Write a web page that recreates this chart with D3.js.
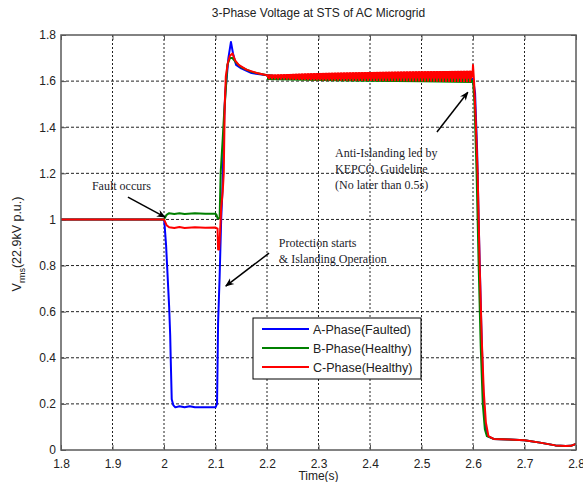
<!DOCTYPE html>
<html>
<head>
<meta charset="utf-8">
<script src="https://cdn.jsdelivr.net/npm/d3@7"></script>
<style>
  body { margin: 0; background: #fff; }
  svg { display: block; }
  .tick text { font-family: "Liberation Sans", Arial, sans-serif; font-size: 12px; fill: #222; }
  .note { font-family: "Liberation Serif", "Times New Roman", serif; font-size: 12px; fill: #1c1c2a; }
</style>
</head>
<body>
<svg id="chart" width="583" height="482"></svg>
<script>
// phase A (faulted)
var tA = [1.8, 2.0, 2.001, 2.004, 2.006, 2.010, 2.012, 2.013, 2.015, 2.018, 2.022, 2.03, 2.04, 2.05, 2.06, 2.08, 2.1, 2.103, 2.105, 2.108, 2.111, 2.113, 2.117, 2.119, 2.122, 2.125, 2.13, 2.134, 2.14, 2.15, 2.17, 2.2, 2.25, 2.3, 2.4, 2.5, 2.6, 2.604, 2.608, 2.612, 2.616, 2.62, 2.624, 2.628, 2.64, 2.67, 2.7, 2.73, 2.76, 2.78, 2.79, 2.8];
var vA = [1.0, 1.0, 0.98, 0.89, 0.8, 0.62, 0.5, 0.4, 0.22, 0.195, 0.185, 0.19, 0.185, 0.19, 0.185, 0.185, 0.185, 0.2, 0.55, 0.75, 1.0, 1.1, 1.45, 1.55, 1.62, 1.7, 1.77, 1.72, 1.67, 1.655, 1.635, 1.625, 1.615, 1.61, 1.615, 1.615, 1.61, 1.55, 1.3, 0.9, 0.55, 0.25, 0.1, 0.06, 0.048, 0.046, 0.042, 0.032, 0.02, 0.017, 0.018, 0.026];

// phase B (healthy)
var tB = [1.8, 2.0, 2.005, 2.01, 2.02, 2.03, 2.04, 2.06, 2.08, 2.1, 2.102, 2.104, 2.108, 2.11, 2.114, 2.117, 2.119, 2.121, 2.123, 2.128, 2.133, 2.14, 2.15, 2.17, 2.2, 2.25, 2.3, 2.4, 2.5, 2.6, 2.603, 2.607, 2.611, 2.615, 2.619, 2.623, 2.627, 2.64, 2.67, 2.7, 2.73, 2.76, 2.78, 2.79, 2.8];
var vB = [1.0, 1.0, 1.02, 1.027, 1.024, 1.027, 1.024, 1.027, 1.025, 1.025, 1.02, 1.005, 1.005, 1.2, 1.35, 1.47, 1.53, 1.6, 1.67, 1.7, 1.7, 1.68, 1.66, 1.64, 1.625, 1.615, 1.61, 1.61, 1.612, 1.6, 1.5, 1.2, 0.8, 0.45, 0.2, 0.09, 0.06, 0.048, 0.046, 0.042, 0.032, 0.02, 0.017, 0.018, 0.026];

// phase C (healthy)
var tC = [1.8, 2.0, 2.005, 2.01, 2.02, 2.03, 2.04, 2.06, 2.08, 2.1, 2.104, 2.105, 2.107, 2.109, 2.111, 2.114, 2.116, 2.118, 2.120, 2.124, 2.128, 2.133, 2.138, 2.145, 2.16, 2.18, 2.2, 2.25, 2.3, 2.4, 2.5, 2.599, 2.6, 2.602, 2.605, 2.609, 2.613, 2.617, 2.621, 2.625, 2.63, 2.64, 2.67, 2.7, 2.73, 2.76, 2.78, 2.79, 2.8];
var vC = [1.0, 1.0, 0.975, 0.966, 0.963, 0.967, 0.963, 0.966, 0.964, 0.965, 0.96, 0.87, 0.87, 0.95, 1.05, 1.12, 1.2, 1.5, 1.62, 1.68, 1.71, 1.72, 1.69, 1.67, 1.65, 1.635, 1.625, 1.615, 1.612, 1.615, 1.618, 1.62, 1.67, 1.6, 1.45, 1.2, 0.8, 0.48, 0.25, 0.12, 0.06, 0.048, 0.046, 0.042, 0.032, 0.02, 0.017, 0.018, 0.026];

// ripple envelope in steady state
var tRip = [2.2, 2.3, 2.4, 2.5, 2.598];
var ripCHi = [1.628, 1.635, 1.64, 1.643, 1.645];
var ripCLo = [1.608, 1.603, 1.6, 1.598, 1.595];
var ripBHi = [1.62, 1.625, 1.63, 1.632, 1.635];
var ripBLo = [1.605, 1.6, 1.597, 1.595, 1.592];

var xTicks = [1.8, 1.9, 2.0, 2.1, 2.2, 2.3, 2.4, 2.5, 2.6, 2.7, 2.8];
var yTicks = [0, 0.2, 0.4, 0.6, 0.8, 1.0, 1.2, 1.4, 1.6, 1.8];
var phaseNames = ["A-Phase(Faulted)", "B-Phase(Healthy)", "C-Phase(Healthy)"];
var phaseColors = ["#0000ff", "#008000", "#ff0000"];

var svg = d3.select("#chart"),
    margin = { top: 35, right: 7, bottom: 32, left: 61 },
    width = +svg.attr("width") - margin.left - margin.right,
    height = +svg.attr("height") - margin.top - margin.bottom;

var x = d3.scaleLinear().domain([1.8, 2.8]).range([0, width]),
    y = d3.scaleLinear().domain([0, 1.8]).range([height, 0]);

var defs = svg.append("defs");
defs.append("marker")
    .attr("id", "arrow")
    .attr("viewBox", "0 0 10 10")
    .attr("refX", 9).attr("refY", 5)
    .attr("markerWidth", 9).attr("markerHeight", 9)
    .attr("markerUnits", "userSpaceOnUse")
    .attr("orient", "auto")
    .append("path")
    .attr("d", "M0,1 L10,5 L0,9 L3,5 Z")
    .attr("fill", "#000");
var pat = defs.append("pattern")
    .attr("id", "redstripe")
    .attr("patternUnits", "userSpaceOnUse")
    .attr("width", 3).attr("height", 4);
pat.append("rect").attr("width", 2).attr("height", 4).attr("fill", "#ff0000");
defs.append("clipPath").attr("id", "clip")
    .append("rect").attr("width", width).attr("height", height);

var g = svg.append("g")
    .attr("transform", "translate(" + margin.left + "," + margin.top + ")");

// grid
g.append("g").selectAll("line")
    .data(xTicks.slice(1, -1))
    .enter().append("line")
    .attr("x1", function (d) { return x(d); }).attr("x2", function (d) { return x(d); })
    .attr("y1", 0).attr("y2", height)
    .attr("stroke", "#222").attr("stroke-width", 1)
    .attr("stroke-dasharray", "2,2");
g.append("g").selectAll("line")
    .data(yTicks.slice(1, -1))
    .enter().append("line")
    .attr("y1", function (d) { return y(d); }).attr("y2", function (d) { return y(d); })
    .attr("x1", 0).attr("x2", width)
    .attr("stroke", "#222").attr("stroke-width", 1)
    .attr("stroke-dasharray", "3,2");

// axes
var fmt = d3.format("~g");
g.append("g").attr("transform", "translate(0," + height + ")")
    .call(d3.axisBottom(x).tickValues(xTicks).tickFormat(fmt).tickSizeInner(-5).tickSizeOuter(0).tickPadding(9));
g.append("g")
    .call(d3.axisLeft(y).tickValues(yTicks).tickFormat(fmt).tickSizeInner(-5).tickSizeOuter(0).tickPadding(5));
g.append("g").call(d3.axisTop(x).tickValues(xTicks).tickFormat("").tickSizeInner(-5).tickSizeOuter(0));
g.append("g").attr("transform", "translate(" + width + ",0)")
    .call(d3.axisRight(y).tickValues(yTicks).tickFormat("").tickSizeInner(-5).tickSizeOuter(0));
g.selectAll(".domain").remove();
g.selectAll(".tick line").attr("stroke", "#555");

// data
var plot = g.append("g").attr("clip-path", "url(#clip)");

var line = d3.line()
    .x(function (d) { return x(d[0]); })
    .y(function (d) { return y(d[1]); });

function zip(t, v) { return t.map(function (d, i) { return [d, v[i]]; }); }

var band = d3.area()
    .x(function (d) { return x(d[0]); })
    .y0(function (d) { return y(d[1]); })
    .y1(function (d) { return y(d[2]); });

plot.append("path")
    .datum(zip(tA, vA))
    .attr("fill", "none").attr("stroke", phaseColors[0]).attr("stroke-width", 2)
    .attr("stroke-linejoin", "round")
    .attr("d", line);
plot.append("path")
    .datum(zip(tB, vB))
    .attr("fill", "none").attr("stroke", phaseColors[1]).attr("stroke-width", 2)
    .attr("stroke-linejoin", "round")
    .attr("d", line);
plot.append("path")
    .datum(tRip.map(function (d, i) { return [d, ripBLo[i], ripBHi[i]]; }))
    .attr("fill", phaseColors[1])
    .attr("d", band);
plot.append("path")
    .datum(zip(tC, vC))
    .attr("fill", "none").attr("stroke", phaseColors[2]).attr("stroke-width", 2)
    .attr("stroke-linejoin", "round")
    .attr("d", line);
plot.append("path")
    .datum(tRip.map(function (d, i) { return [d, ripCLo[i], ripCHi[i]]; }))
    .attr("fill", "url(#redstripe)")
    .attr("d", band);
// solid upper part of the red ripple
plot.append("path")
    .datum(tRip.map(function (d, i) { return [d, ripCLo[i] + (ripCHi[i] - ripCLo[i]) * 0.3, ripCHi[i]]; }))
    .attr("fill", phaseColors[2])
    .attr("d", band);

// frame
g.append("rect")
    .attr("width", width).attr("height", height)
    .attr("fill", "none").attr("stroke", "#5a5a5a").attr("stroke-width", 1.5);

// annotations
var notes = [
    { lines: ["Fault occurs"], t: 1.86, v: 1.128, from: [1.930, 1.097], to: [2.002, 1.01] },
    { lines: ["Protection starts", "& Islanding Operation"], t: 2.223, v: 0.88, from: [2.204, 0.854], to: [2.12, 0.711] },
    { lines: ["Anti-Islanding led by", "KEPCO. Guideline", "(No later than 0.5s)"], t: 2.332, v: 1.27, from: [2.53, 1.379], to: [2.59, 1.552] }
];
notes.forEach(function (n) {
    var txt = g.append("text").attr("class", "note")
        .attr("x", x(n.t)).attr("y", y(n.v));
    n.lines.forEach(function (s, i) {
        txt.append("tspan").attr("x", x(n.t)).attr("dy", i ? 16 : 0).text(s);
    });
    g.append("line")
        .attr("x1", x(n.from[0])).attr("y1", y(n.from[1]))
        .attr("x2", x(n.to[0])).attr("y2", y(n.to[1]))
        .attr("stroke", "#000").attr("stroke-width", 1.5)
        .attr("marker-end", "url(#arrow)");
});

// legend
var leg = g.append("g").attr("transform", "translate(" + (253 - margin.left) + "," + (318 - margin.top) + ")");
leg.append("rect").attr("width", 168).attr("height", 61)
    .attr("fill", "#fff").attr("stroke", "#000").attr("stroke-width", 1);
phaseNames.forEach(function (name, i) {
    var ly = 11 + i * 19;
    leg.append("line")
        .attr("x1", 9).attr("x2", 56).attr("y1", ly).attr("y2", ly)
        .attr("stroke", phaseColors[i]).attr("stroke-width", 2);
    leg.append("text")
        .attr("x", 60).attr("y", ly + 4.5)
        .style("font-family", "'Liberation Sans', Arial, sans-serif")
        .style("font-size", "12.5px").style("fill", "#222")
        .text(name);
});

// titles
svg.append("text")
    .attr("x", margin.left + width / 2).attr("y", 17)
    .attr("text-anchor", "middle")
    .style("font-family", "'Liberation Sans', Arial, sans-serif")
    .style("font-size", "12px").style("fill", "#222")
    .text("3-Phase Voltage at STS of AC Microgrid");
svg.append("text")
    .attr("x", margin.left + width / 2).attr("y", 480)
    .attr("text-anchor", "middle")
    .style("font-family", "'Liberation Sans', Arial, sans-serif")
    .style("font-size", "12px").style("fill", "#222")
    .text("Time(s)");
var yl = svg.append("text")
    .attr("transform", "translate(21,244) rotate(-90)")
    .attr("text-anchor", "middle")
    .style("font-family", "'Liberation Sans', Arial, sans-serif")
    .style("font-size", "12.5px").style("fill", "#222");
yl.append("tspan").text("V");
yl.append("tspan").attr("dy", 4).style("font-size", "9px").text("rms");
yl.append("tspan").attr("dy", -4).text("(22.9kV p.u.)");
</script>
</body>
</html>
